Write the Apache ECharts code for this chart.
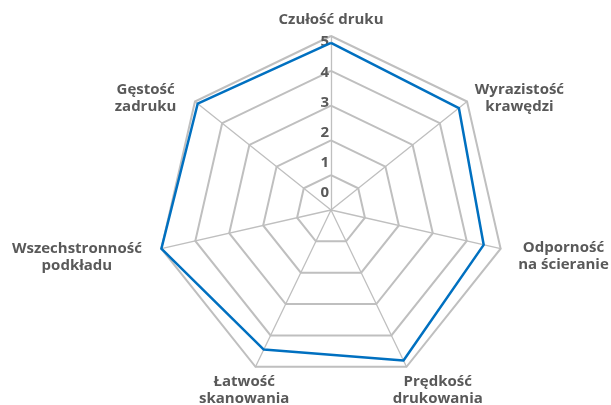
<!DOCTYPE html>
<html><head><meta charset="utf-8">
<script src="https://cdn.jsdelivr.net/npm/echarts@6/dist/echarts.min.js"></script>
<style>html,body{margin:0;padding:0;background:#fff}#c{width:611px;height:405px}</style>
</head><body><div id="c"></div>
<script>
// Indicators in ECharts order (counter-clockwise from the top)
const indicatorNames = [
  'Czułość druku',
  'Gęstość\nzadruku',
  'Wszechstronność\npodkładu',
  'Łatwość\nskanowania',
  'Prędkość\ndrukowania',
  'Odporność\nna ścieranie',
  'Wyrazistość\nkrawędzi'
];
const seriesValues = [4.8, 4.9, 5.0, 4.45, 4.8, 4.5, 4.7];
const tickLabels = ['0', '1', '2', '3', '4', '5'];
const axisMax = 5;

// name label placement styles (per indicator)
const nameStyles = [
  {gap: 16, align: 'center', va: 'middle', pad: [0, 0, 0, 0]},
  {gap: 16, align: 'right', va: 'middle', pad: [13, 6, 0, 0]},
  {gap: 20, align: 'right', va: 'middle', pad: [8, 0, 0, 0]},
  {gap: 26, align: 'center', va: 'middle', pad: [0, 0, 0, 0]},
  {gap: 26, align: 'center', va: 'middle', pad: [0, 0, 0, 40]},
  {gap: 18, align: 'left', va: 'middle', pad: [7, 0, 0, 0]},
  {gap: 10, align: 'left', va: 'middle', pad: [5, 0, 0, 0]}
];
// vertical shift (px, upward) of each tick label
const tickShift = [17, 12, 7.5, 2.5, -2, -6];

const FONT = '"Open Sans", Lato, sans-serif';
const TXT = '#595959';
const FS = 15;

const tickRich = {};
tickLabels.forEach((t, i) => {
  const d = tickShift[i];
  tickRich['l' + i] = {
    fontFamily: FONT, fontWeight: 700, fontSize: 15, color: TXT,
    padding: d > 0 ? [0, 0, 2 * d, 0] : [-2 * d, 0, 0, 0]
  };
});

const indicator = indicatorNames.map((n, i) => {
  const s = nameStyles[i];
  const o = {
    name: n, min: 0, max: axisMax, nameGap: s.gap,
    nameTextStyle: {align: s.align, verticalAlign: s.va, padding: s.pad}
  };
  if (i === 0) {
    o.axisLabel = {
      show: true, margin: 2,
      formatter: function (v) {
        const idx = Math.round(v);
        return '{l' + idx + '|' + tickLabels[idx] + '}';
      },
      rich: tickRich
    };
  }
  return o;
});

const chart = echarts.init(document.getElementById('c'));
chart.setOption({
  animation: false,
  backgroundColor: '#ffffff',
  radar: {
    center: [331, 210],
    radius: 174,
    startAngle: 90,
    shape: 'polygon',
    splitNumber: 5,
    indicator: indicator,
    axisName: {
      color: TXT, fontFamily: FONT, fontWeight: 700, fontSize: FS, lineHeight: 17,
      formatter: function (name) {
        return name.split('\n').map(l => '{c|' + l + '}').join('\n');
      },
      rich: {c: {align: 'center', color: TXT, fontFamily: FONT, fontWeight: 700, fontSize: FS, lineHeight: 17}}
    },
    axisLine: {show: true, lineStyle: {color: '#BFBFBF', width: 1.3}},
    splitLine: {show: true, lineStyle: {color: '#BFBFBF', width: 2}},
    splitArea: {show: false},
    axisTick: {show: false},
    axisLabel: {show: false}
  },
  series: [{
    type: 'radar',
    symbol: 'none',
    lineStyle: {color: '#0070C0', width: 2.5},
    itemStyle: {color: '#0070C0'},
    data: [{value: seriesValues, name: 'Ocena'}]
  }]
});
</script></body></html>
